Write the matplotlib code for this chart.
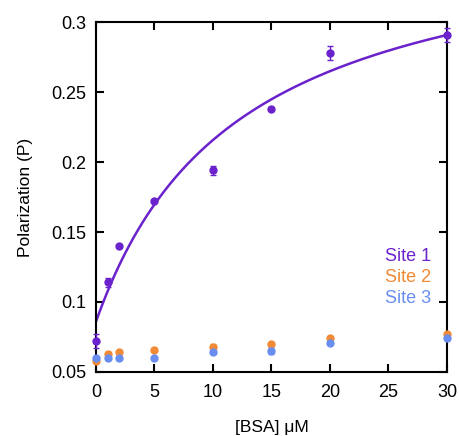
import numpy as np
import matplotlib
matplotlib.use("Agg")
import matplotlib.pyplot as plt

plt.rcParams['font.family'] = ['Liberation Sans', 'DejaVu Sans']

bsa = [0, 1, 2, 5, 10, 15, 20, 30]
site1 = [0.072, 0.114, 0.140, 0.172, 0.194, 0.238, 0.278, 0.291]
site1_err = [0.005, 0.003, 0.001, 0.001, 0.003, 0.001, 0.005, 0.005]
site2 = [0.058, 0.063, 0.064, 0.066, 0.068, 0.070, 0.074, 0.077]
site2_err = [0.001, 0.001, 0.001, 0.001, 0.002, 0.001, 0.001, 0.001]
site3 = [0.060, 0.060, 0.060, 0.060, 0.064, 0.065, 0.071, 0.074]
site3_err = [0.001, 0.001, 0.001, 0.001, 0.001, 0.002, 0.001, 0.001]

# hyperbolic binding fit for Site 1
fit_p0 = 0.086
fit_amp = 0.288
fit_kd = 12.2

purple = '#6a22cc'
orange = '#f08a35'
blue = '#6a8ef0'

fig = plt.figure(figsize=(4.6, 4.36), dpi=100)
ax = fig.add_axes([0.2087, 0.1468, 0.763, 0.8027])

xf = np.linspace(0, 30, 300)
ax.plot(xf, fit_p0 + fit_amp * xf / (fit_kd + xf), color=purple, lw=1.8, clip_on=True)

ms = 5
ax.errorbar(bsa, site2, yerr=site2_err, fmt='o', color=orange, ms=ms, capsize=2, elinewidth=1, clip_on=False, zorder=3)
ax.errorbar(bsa, site3, yerr=site3_err, fmt='o', color=blue, ms=ms, capsize=2, elinewidth=1, clip_on=False, zorder=4)
ax.errorbar(bsa, site1, yerr=site1_err, fmt='o', color=purple, ms=ms, capsize=2, elinewidth=1, clip_on=False, zorder=5)

ax.set_xlim(0, 30)
ax.set_ylim(0.05, 0.3)
ax.set_xticks([0, 5, 10, 15, 20, 25, 30])
ax.set_yticks([0.05, 0.1, 0.15, 0.2, 0.25, 0.3])
ax.set_yticklabels(['0.05', '0.1', '0.15', '0.2', '0.25', '0.3'])
ax.tick_params(direction='in', top=True, right=True, length=6, width=1.5, labelsize=13)
ax.tick_params(axis='x', pad=9)
ax.tick_params(axis='y', pad=7)
for s in ax.spines.values():
    s.set_linewidth(1.5)

ax.set_xlabel('[BSA] \u03bcM', fontsize=12.5, labelpad=13)
ax.set_ylabel('Polarization (P)', fontsize=12.5, labelpad=13)

for i, (lab, c) in enumerate([('Site 1', purple), ('Site 2', orange), ('Site 3', blue)]):
    ax.text(0.955, 0.33 - i * 0.06, lab, color=c, fontsize=13, ha='right', va='center', transform=ax.transAxes)

fig.savefig('out.png', dpi=100)
